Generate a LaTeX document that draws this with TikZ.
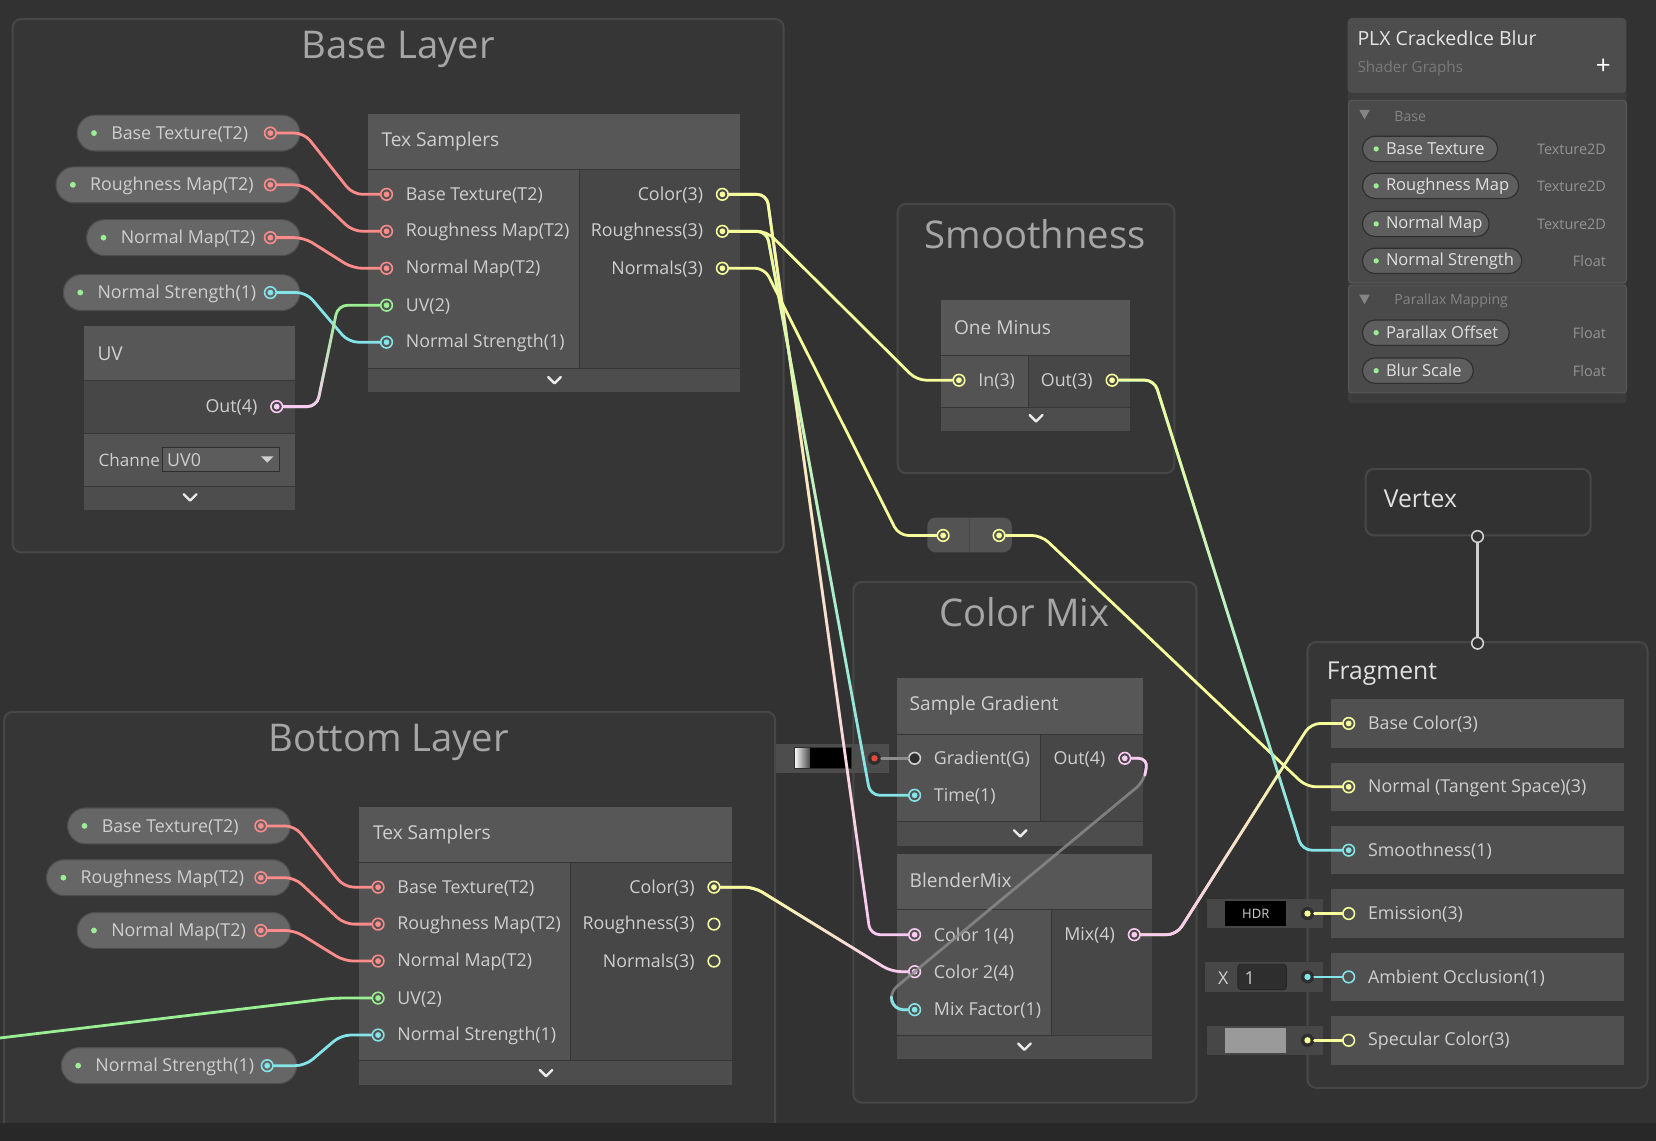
\documentclass[tikz,border=0pt]{standalone}
\usepackage{fontspec}
\setmainfont{Open Sans}
\usetikzlibrary{calc, fadings}

\definecolor{canvas}{HTML}{323232}
\definecolor{grpfill}{HTML}{363636}
\definecolor{grpline}{HTML}{474747}
\definecolor{hdrfill}{HTML}{575757}
\definecolor{infill}{HTML}{535353}
\definecolor{outfill}{HTML}{474747}
\definecolor{footfill}{HTML}{4D4D4D}
\definecolor{pillfill}{HTML}{666666}
\definecolor{pillline}{HTML}{4E4E4E}
\definecolor{txt}{HTML}{CFCFCF}
\definecolor{dimtxt}{HTML}{A6A6A6}
\definecolor{ctex}{HTML}{FF8B8B}
\definecolor{cflt}{HTML}{84E4E7}
\definecolor{cvtwo}{HTML}{9AEF92}
\definecolor{cvthree}{HTML}{F6FF9A}
\definecolor{cvfour}{HTML}{FBCBF4}
\definecolor{wgray}{HTML}{8C8C8C}
\definecolor{dotring}{HTML}{2E2E2E}
\definecolor{gradred}{HTML}{E8473B}
\definecolor{swgray}{HTML}{9A9A9A}
\definecolor{vxline}{HTML}{D0D0D0}

\tikzfading[name=topsolid, top color=transparent!0, bottom color=transparent!100]
\tikzfading[name=botsolid, top color=transparent!100, bottom color=transparent!0]

\tikzset{
    grp/.style={fill=grpfill, draw=grpline, line width=1.1pt, rounded corners=0.16cm},
    gtitle/.style={text=dimtxt, font=\fontsize{20.6}{24}\selectfont},
    htext/.style={anchor=west, text=txt, font=\fontsize{10.3}{12}\selectfont},
    ptext/.style={anchor=west, text=txt, font=\fontsize{9.6}{11}\selectfont, yshift=-0.02cm},
    rtext/.style={ptext, anchor=east},
    pill/.style={fill=pillfill, draw=pillline, line width=0.6pt, rounded corners=0.34cm},
    gdot/.style={circle, fill=cvtwo, minimum size=0.11cm},
    port/.style={circle, draw=#1, line width=0.85pt, minimum size=0.22cm,
        path picture={\fill[#1] (path picture bounding box.center) circle (0.055cm);}},
    oport/.style={circle, draw=#1, line width=0.85pt, minimum size=0.22cm},
    idot/.style={circle, fill=dotring, minimum size=0.25cm,
        path picture={\fill[#1] (path picture bounding box.center) circle (0.06cm);}},
    wire/.style={line width=1.5pt, rounded corners=0.18cm, line cap=round},
    gradwire/.style n args={3}{wire, draw=#2, postaction={draw=#1, path fading=#3}},
    chev/.style={draw=white!92!black, line width=1.3pt, line cap=round, line join=round},
}

\begin{document}
\begin{tikzpicture}[x=0.02cm, y=-0.02cm, every node/.append style={inner sep=0pt}]
\fill[canvas] (0,0) rectangle (1568,1080);
\useasboundingbox (0,0) rectangle (1568,1080);

% groups
\draw[grp] (12,18) rectangle (742,523);
\node[gtitle] (base-title) at (377,47) {Base Layer};
\draw[grp] (4,674) rectangle (734,1076);
\node[gtitle] (bot-title) at (368,703) {Bottom Layer};
\draw[grp] (850,193) rectangle (1112,448);
\node[gtitle] (sm-title) at (980,222) {Smoothness};
\draw[grp] (808,551) rectangle (1133,1044);
\node[gtitle] (cm-title) at (970,580) {Color Mix};

% properties
\foreach \n/\t/\xa/\xb/\y/\c in {bp1/Base Texture(T2)/73/284/126/ctex, bp2/Roughness Map(T2)/53/284/175/ctex,
        bp3/Normal Map(T2)/82/284/225/ctex, bp4/Normal Strength(1)/60/284/277/cflt,
        tp1/Base Texture(T2)/64/275/782/ctex, tp2/Roughness Map(T2)/44/275/831/ctex,
        tp3/Normal Map(T2)/73/275/881/ctex, tp4/Normal Strength(1)/58/281/1009/cflt} {
    \filldraw[pill] (\xa,\y-17) rectangle (\xb,\y+17);
    \node[gdot] (\n-d) at (\xa+16,\y) {};
    \node[ptext] (\n-l) at (\xa+32,\y) {\t};
    \node[port=\c] (\n) at (\xb-28,\y) {};
}

% uv
\fill[hdrfill] (80,309) rectangle (279,360);
\node[htext] (uv-t) at (92,335) {UV};
\fill[outfill] (80,361) rectangle (279,410);
\fill[infill] (80,411) rectangle (279,460);
\fill[footfill] (80,461) rectangle (279,483);
\node[rtext] (uv-ol) at (244,385) {Out(4)};
\node[port=cvfour] (uv-o) at (262,385) {};
\node[ptext, font=\fontsize{9.2}{11}\selectfont] (uv-ch) at (93,435) {Channe};
\filldraw[fill=pillfill!90!black, draw=dotring, line width=0.5pt] (154,424) rectangle (265,446);
\node[ptext] (uv-dd) at (158,435) {UV0};
\fill[txt] (247,432) -- (259,432) -- (253,438) -- cycle;
\draw[chev] (174,468) -- ++(6,6) -- ++(6,-6);

% tex samplers
\foreach \n/\x/\y/\os in {bs/348/108/port, ts/340/764/oport} {
    \fill[hdrfill] (\x,\y) rectangle ++(353,52);
    \fill[infill] (\x,\y+53) rectangle ++(200,187);
    \fill[outfill] (\x+201,\y+53) rectangle ++(152,187);
    \fill[footfill] (\x,\y+241) rectangle ++(353,22);
    \node[htext] (\n-t) at (\x+13,\y+26) {Tex Samplers};
    \foreach \i/\t/\c in {1/Base Texture(T2)/ctex, 2/Roughness Map(T2)/ctex, 3/Normal Map(T2)/ctex,
            4/UV(2)/cvtwo, 5/Normal Strength(1)/cflt} {
        \node[port=\c] (\n-i\i) at (\x+18,\y+41+35*\i) {};
        \node[ptext] (\n-il\i) at (\x+36,\y+41+35*\i) {\t};
    }
    \foreach \i/\t in {1/Color(3), 2/Roughness(3), 3/Normals(3)}
        \node[rtext] (\n-ol\i) at (\x+318,\y+41+35*\i) {\t};
    \node[port=cvthree] (\n-o1) at (\x+336,\y+76) {};
    \node[\os=cvthree] (\n-o2) at (\x+336,\y+111) {};
    \node[\os=cvthree] (\n-o3) at (\x+336,\y+146) {};
    \draw[chev] (\x+171,\y+249) -- ++(6,6) -- ++(6,-6);
}

% one minus
\fill[hdrfill] (891,284) rectangle (1070,336);
\node[htext] (om-t) at (903,310) {One Minus};
\fill[infill] (891,337) rectangle (973,385);
\fill[outfill] (974,337) rectangle (1070,385);
\fill[footfill] (891,386) rectangle (1070,408);
\node[port=cvthree] (om-i) at (908,360) {};
\node[ptext] (om-il) at (926,360) {In(3)};
\node[rtext] (om-ol) at (1035,360) {Out(3)};
\node[port=cvthree] (om-o) at (1053,360) {};
\draw[chev] (975,393) -- ++(6,6) -- ++(6,-6);

% reroute
\fill[infill, rounded corners=0.16cm] (878,490) rectangle (958,523);
\draw[outfill, line width=0.8pt] (918,490) -- (918,523);
\node[port=cvthree] (rr-i) at (893,507) {};
\node[port=cvthree] (rr-o) at (946,507) {};

% sample gradient
\fill[hdrfill] (849,642) rectangle (1082,695);
\node[htext] (sg-t) at (861,668) {Sample Gradient};
\fill[infill] (849,696) rectangle (985,777);
\fill[outfill] (986,696) rectangle (1082,777);
\fill[footfill] (849,778) rectangle (1082,801);
\node[oport=txt, fill=dotring] (sg-i1) at (866,718) {};
\node[ptext] (sg-il1) at (884,718) {Gradient(G)};
\node[port=cflt] (sg-i2) at (866,753) {};
\node[ptext] (sg-il2) at (884,753) {Time(1)};
\node[rtext] (sg-ol) at (1047,718) {Out(4)};
\node[port=cvfour] (sg-o) at (1065,718) {};
\draw[chev] (960,786) -- ++(6,6) -- ++(6,-6);

\fill[footfill] (735,704) rectangle (842,732);
\shade[left color=white, right color=outfill] (752,708) rectangle (767,728);
\fill[black] (767,708) rectangle (806,728);
\draw[dotring, line width=0.6pt] (752,708) rectangle (806,728);
\node[idot=gradred] (gf-d) at (828,718) {};

% blender mix
\fill[hdrfill] (849,809) rectangle (1091,861);
\node[htext] (bm-t) at (861,834) {BlenderMix};
\fill[infill] (849,862) rectangle (995,980);
\fill[outfill] (996,862) rectangle (1091,980);
\fill[footfill] (849,981) rectangle (1091,1003);
\foreach \i/\t/\c/\y in {1/Color 1(4)/cvfour/885, 2/Color 2(4)/cvfour/920, 3/Mix Factor(1)/cflt/956} {
    \node[port=\c] (bm-i\i) at (866,\y) {};
    \node[ptext] (bm-il\i) at (884,\y) {\t};
}
\node[rtext] (bm-ol) at (1056,885) {Mix(4)};
\node[port=cvfour] (bm-o) at (1074,885) {};
\draw[chev] (964,988) -- ++(6,6) -- ++(6,-6);

% blackboard
\fill[outfill!85!black, rounded corners=0.08cm] (1276,17) rectangle (1540,382);
\fill[footfill, rounded corners=0.08cm] (1276,17) rectangle (1540,88);
\node[anchor=west, text=white!90!black, font=\fontsize{10.5}{12}\selectfont] (bb-t) at (1285,36) {PLX CrackedIce Blur};
\node[anchor=west, text=white!48!black, font=\fontsize{8.2}{10}\selectfont] (bb-s) at (1285,65) {Shader Graphs};
\node[text=white, font=\fontsize{14}{14}\selectfont] (bb-add) at (1518,63) {+};
\foreach \ya/\yb/\t in {95/268/Base, 270/372/Parallax Mapping} {
    \draw[fill=grpfill!90!white, draw=hdrfill, line width=0.6pt, rounded corners=0.06cm] (1277,\ya) rectangle (1540,\yb);
    \fill[white!52!black] (1287,\ya+9) -- (1297,\ya+9) -- (1292,\ya+18) -- cycle;
    \node[anchor=west, text=white!52!black, font=\fontsize{7.6}{9}\selectfont] (bb-\ya) at (1320,\ya+15) {\t};
}
\foreach \n/\t/\xb/\y/\ty in {bb1/Base Texture/1418/141/Texture2D, bb2/Roughness Map/1438/176/Texture2D,
        bb3/Normal Map/1410/212/Texture2D, bb4/Normal Strength/1441/247/Float,
        bb5/Parallax Offset/1429/315/Float, bb6/Blur Scale/1395/351/Float} {
    \filldraw[fill=pillfill!92!black, draw=dotring, line width=0.6pt, rounded corners=0.24cm] (1290,\y-12) rectangle (\xb,\y+12);
    \node[gdot, minimum size=0.1cm] (\n-d) at (1303,\y) {};
    \node[anchor=west, text=white!88!black, font=\fontsize{8.9}{10}\selectfont] (\n) at (1312,\y) {\t};
    \node[anchor=east, text=white!58!black, font=\fontsize{7.8}{9}\selectfont] (\n-ty) at (1521,\y) {\ty};
}

% vertex / fragment
\draw[fill=canvas, draw=grpline, line width=1.1pt, rounded corners=0.16cm] (1293,444) rectangle (1506,507);
\node[anchor=west, text=white!88!black, font=\fontsize{13.3}{15}\selectfont] (vx-t) at (1310,472) {Vertex};
\draw[fill=grpfill, draw=grpline, line width=1.1pt, rounded corners=0.16cm] (1238,608) rectangle (1560,1030);
\node[anchor=west, text=white!88!black, font=\fontsize{13.3}{15}\selectfont] (fr-t) at (1256,638) {Fragment};
\node[oport=vxline, fill=canvas] (vx-p) at (1399,508) {};
\node[oport=vxline, fill=canvas] (fr-p) at (1399,609) {};
\draw[vxline, line width=1.5pt] (vx-p) -- (fr-p);
\foreach \i/\t/\c/\s in {1/Base Color(3)/cvthree/port, 2/Normal (Tangent Space)(3)/cvthree/port,
        3/Smoothness(1)/cflt/port, 4/Emission(3)/cvthree/oport,
        5/Ambient Occlusion(1)/cflt/oport, 6/Specular Color(3)/cvthree/oport} {
    \fill[infill!96!black] (1260,625+60*\i-23) rectangle (1538,625+60*\i+23);
    \node[\s=\c] (fr-i\i) at (1277,625+60*\i) {};
    \node[ptext] (fr-l\i) at (1295,625+60*\i) {\t};
}
\fill[outfill] (1143,851) rectangle (1253,879);
\fill[black] (1160,853) rectangle (1218,877);
\node[text=txt, font=\fontsize{7}{8}\selectfont] (em-hdr) at (1189,865) {HDR};
\node[idot=cvthree] (em-d) at (1238,865) {};
\fill[outfill] (1141,911) rectangle (1253,939);
\node[ptext] (ao-x) at (1153,925) {X};
\filldraw[fill=dotring, draw=dotring!80!black, line width=0.5pt, rounded corners=0.06cm] (1172,913) rectangle (1218,937);
\node[ptext] (ao-v) at (1178,925) {1};
\node[idot=cflt] (ao-d) at (1238,925) {};
\fill[outfill] (1143,971) rectangle (1253,999);
\fill[swgray] (1160,973) rectangle (1218,997);
\node[idot=cvthree] (sp-d) at (1238,985) {};

% wires
\coordinate (uv-src) at (-10,984);
\foreach \a/\b in {bp1/bs-i1, bp2/bs-i2, bp3/bs-i3, tp1/ts-i1, tp2/ts-i2, tp3/ts-i3}
    \draw[wire, ctex] (\a) -- ++(32,0) -- ($(\b)+(-32,0)$) -- (\b);
\draw[wire, cflt] (bp4) -- ++(34,0) -- ($(bs-i5)+(-36,0)$) -- (bs-i5);
\draw[wire, cflt] (tp4) -- ++(36,0) -- ($(ts-i5)+(-35,0)$) -- (ts-i5);
\draw[gradwire={cvfour}{cvtwo}{botsolid}] (uv-o) -- ++(38,0) -- ($(bs-i4)+(-46,0)$) -- (bs-i4);
\draw[wire, cvtwo] (uv-src) -- ($(ts-i4)+(-42,0)$) -- (ts-i4);
\draw[wire, wgray] (gf-d) -- (sg-i1);

\draw[gradwire={cvthree}{cvfour}{topsolid}] (bs-o1) -- ++(42,0) -- ($(bm-i1)+(-42,0)$) -- (bm-i1);
\draw[gradwire={cvthree}{cflt}{topsolid}] (bs-o2) -- ++(42,0) -- ($(sg-i2)+(-42,0)$) -- (sg-i2);
\draw[wire, cvthree] (bs-o2) -- ++(42,0) -- ($(om-i)+(-40,0)$) -- (om-i);
\draw[wire, cvthree] (bs-o3) -- ++(40,0) -- ($(rr-i)+(-42,0)$) -- (rr-i);
\draw[wire, cvthree] (rr-o) -- ++(40,0) -- ($(fr-i2)+(-40,0)$) -- (fr-i2);
\draw[gradwire={cvthree}{cflt}{topsolid}] (om-o) -- ++(40,0) -- ($(fr-i3)+(-44,0)$) -- (fr-i3);
\draw[gradwire={cvthree}{cvfour}{topsolid}] (ts-o1) -- ++(38,0) -- ($(bm-i2)+(-22,0)$) -- (bm-i2);
\draw[gradwire={cvfour}{cvthree}{botsolid}] (bm-o) -- ++(40,0) -- ($(fr-i1)+(-36,0)$) -- (fr-i1);

\draw[wire, wgray, opacity=.8] (sg-o) -- ++(22,0) -- ++(-4,22) -- ($(bm-i3)+(-24,-16)$) -- ($(bm-i3)+(-20,0)$) -- (bm-i3);
\draw[wire, cvfour] (sg-o) -- ++(22,0) -- ++(-3,16);
\draw[wire, cflt] ($(bm-i3)+(-22,-12)$) -- ($(bm-i3)+(-20,0)$) -- (bm-i3);

\draw[wire, cvthree] (em-d) -- (fr-i4);
\draw[wire, cflt] (ao-d) -- (fr-i5);
\draw[wire, cvthree] (sp-d) -- (fr-i6);

\fill[canvas!80!black] (0,1063) rectangle (1568,1080);
\end{tikzpicture}
\end{document}
